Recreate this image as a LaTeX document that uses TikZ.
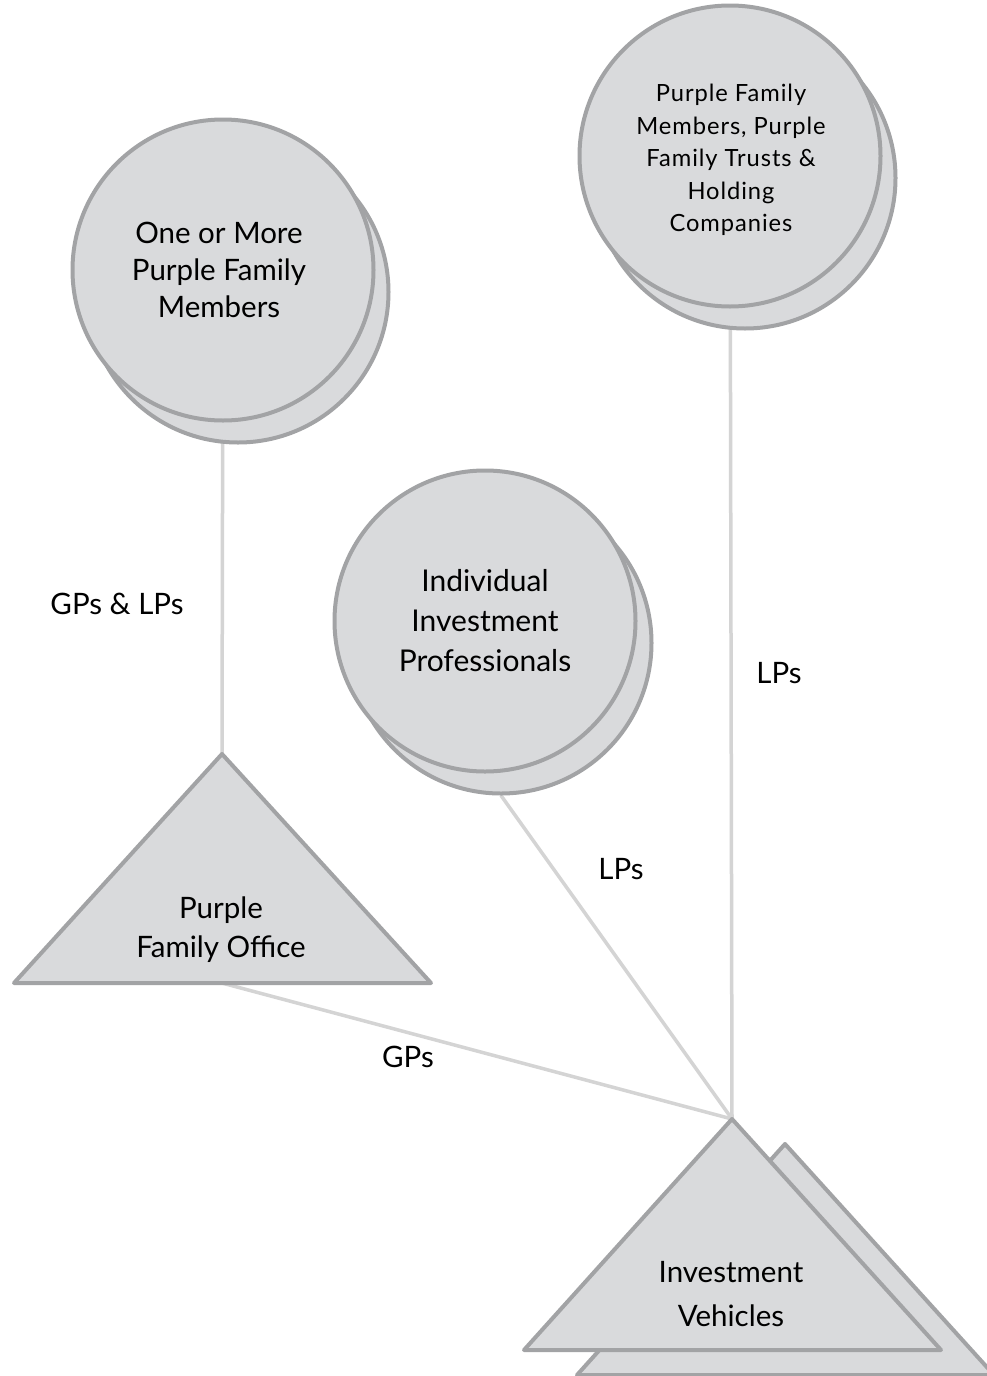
\documentclass[tikz,border=0pt]{standalone}
\usepackage{fontspec}
\setmainfont{Lato}
\usetikzlibrary{backgrounds}
\definecolor{shapefill}{HTML}{D9DADC}
\definecolor{shapeedge}{HTML}{A2A3A5}
\definecolor{linkgray}{HTML}{D4D4D4}
\tikzset{
  disc/.style={circle, draw=shapeedge, fill=shapefill, line width=4pt,
    minimum size=301pt, inner sep=0pt},
  tri/.style={draw=shapeedge, fill=shapefill, line width=4pt, line join=round},
  link/.style={draw=linkgray, line width=3.5pt},
  lbl/.style={font=\fontsize{29.5}{37}\selectfont, inner sep=0pt},
  body/.style={align=center, inner sep=0pt},
}
\begin{document}
\begin{tikzpicture}[x=1pt,y=-1pt]
\useasboundingbox (0,0) rectangle (987,1376);

% owners: stacked discs (back copy first)
\node[disc] (cm-b) at (238,292) {};
\node[disc] (cm) at (223,270) {};
\node[body, font=\fontsize{29.5}{37}\selectfont] (cm-t) at (219,270)
  {One or More\\Purple Family\\Members};

\node[disc] (pf-b) at (745,178) {};
\node[disc] (pf) at (730,156) {};
\node[body, font=\fontsize{23.7}{32.5}\selectfont\addfontfeature{LetterSpace=4}] (pf-t) at (731,160)
  {Purple Family\\Members, Purple\\Family Trusts \&\\Holding\\Companies};

\node[disc] (ip-b) at (501,643) {};
\node[disc] (ip) at (485,621) {};
\node[body, font=\fontsize{30}{40}\selectfont] (ip-t) at (485,621)
  {Individual\\Investment\\Professionals};

% family office triangle
\coordinate (pfo-top) at (222,754);
\coordinate (pfo-l) at (14,983);
\coordinate (pfo-r) at (431,983);
\coordinate (pfo-base) at (222,983);
\draw[tri] (pfo-top) -- (pfo-l) -- (pfo-r) -- cycle;
\node[body, font=\fontsize{29.5}{39}\selectfont] (pfo-t) at (221,930)
  {Purple\\Family Office};

% investment vehicles: stacked triangles
\coordinate (ivb-top) at (785,1144);
\coordinate (ivb-l) at (577,1375);
\coordinate (ivb-r) at (994,1375);
\draw[tri] (ivb-top) -- (ivb-l) -- (ivb-r) -- cycle;
\coordinate (iv-top) at (732,1119);
\coordinate (iv-l) at (524,1350);
\coordinate (iv-r) at (941,1350);
\draw[tri] (iv-top) -- (iv-l) -- (iv-r) -- cycle;
\node[body, font=\fontsize{29.5}{44}\selectfont] (iv-t) at (731,1294)
  {Investment\\Vehicles};

% connectors, kept beneath the shapes
\begin{pgfonlayer}{background}
\fill[white] (0,0) rectangle (987,1376);
\draw[link] (cm.center) -- (pfo-top);
\draw[link] (pf.center) -- (iv-top);
\draw[link] (ip-b.south) -- (iv-top);
\draw[link] (pfo-base) -- (iv-top);
\end{pgfonlayer}

% connector labels
\node[lbl] (l-gplp) at (117,604) {GPs \& LPs};
\node[lbl] (l-lp1) at (779,673) {LPs};
\node[lbl] (l-lp2) at (621,869) {LPs};
\node[lbl] (l-gp) at (408,1057) {GPs};
\end{tikzpicture}
\end{document}
